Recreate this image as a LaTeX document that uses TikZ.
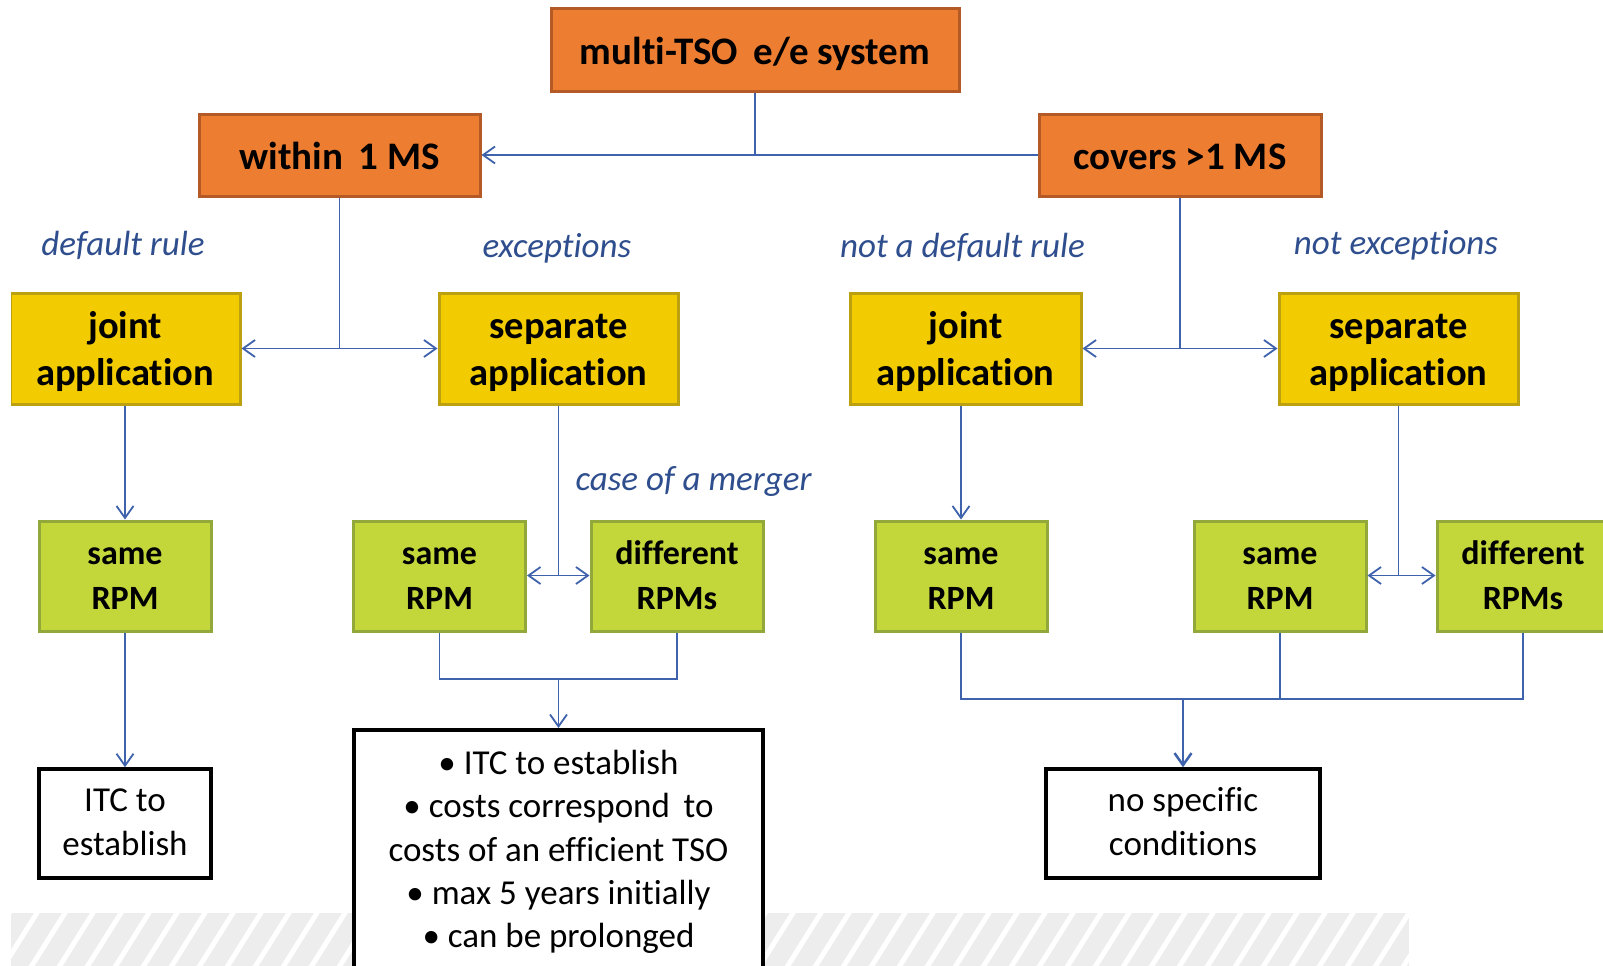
\documentclass[tikz,border=0pt]{standalone}
\usepackage{fontspec}
\setmainfont{Carlito}[Ligatures=NoCommon]
\usetikzlibrary{arrows.meta}
\definecolor{orF}{HTML}{ED7D31}
\definecolor{orD}{HTML}{B35A26}
\definecolor{yeF}{HTML}{F2CB00}
\definecolor{yeD}{HTML}{BBA010}
\definecolor{grF}{HTML}{C3D63A}
\definecolor{grD}{HTML}{92A83A}
\definecolor{lnC}{HTML}{3E62AC}
\definecolor{lbC}{HTML}{2F4E8E}
\definecolor{hatchC}{HTML}{EDEDED}
\tikzset{
  orbox/.style={rectangle, fill=orF, draw=orD, line width=3pt, inner sep=0pt, align=center,
    text height=29pt, text depth=0pt,
    font=\bfseries\fontsize{39}{47}\selectfont},
  yebox/.style={rectangle, fill=yeF, draw=yeD, line width=3pt, inner sep=0pt, align=center,
    text height=73pt, text depth=0pt,
    minimum height=111pt, font=\bfseries\fontsize{38.5}{46.5}\selectfont},
  grbox/.style={rectangle, fill=grF, draw=grD, line width=3pt, inner sep=0pt, align=center,
    text height=66.6pt, text depth=0pt,
    minimum width=172pt, minimum height=110pt, font=\bfseries\fontsize{34}{45}\selectfont},
  whbox/.style={rectangle, fill=white, draw=black, line width=3.5pt, inner sep=0pt, align=center,
    font=\fontsize{35}{44}\selectfont},
  lbl/.style={anchor=base, inner sep=0pt, text=lbC, font=\itshape\fontsize{35}{42}\selectfont},
  conn/.style={draw=lnC, line width=1.8pt},
  arr/.style={conn, -{Straight Barb[length=12pt,width=17pt]}},
  darr/.style={conn, {Straight Barb[length=12pt,width=17pt]}-{Straight Barb[length=12pt,width=17pt]}}
}
\begin{document}
\begin{tikzpicture}[x=1pt,y=-1pt]
\useasboundingbox (0,0) rectangle (1603,966);
\fill[white] (0,0) rectangle (1603,966);
\clip (11,0) rectangle (1603,966);
% hatched band
\begin{scope}
  \clip (11,913) rectangle (1409,970);
  \fill[hatchC] (11,913) rectangle (1409,970);
  \foreach \i in {0,...,54} {
    \draw[white, line width=5pt] ({\i*28-30},975) -- ({\i*28+14},905);
  }
\end{scope}
% top level
\node[orbox, minimum width=408pt, minimum height=82pt] (top) at (755,50) {multi-TSO\, e/e system};
\node[orbox, minimum width=281pt, minimum height=82pt] (within) at (339.5,155) {within\, 1 MS};
\node[orbox, minimum width=282pt, minimum height=82pt] (covers) at (1180,155) {covers >1 MS};
% labels
\node[lbl] (l1) at (123,255.6) {default rule};
\node[lbl] (l2) at (557,257.6) {exceptions};
\node[lbl] (l3) at (962.5,257.6) {not a default rule};
\node[lbl] (l4) at (1396,254.5) {not exceptions};
\node[lbl] (l5) at (693.6,490.7) {case of a merger};
% yellow
\node[yebox, minimum width=230pt] (jl) at (125,348.5) {joint\\application};
\node[yebox, minimum width=239pt] (sl) at (558.5,348.5) {separate\\application};
\node[yebox, minimum width=231pt] (jr) at (965.5,348.5) {joint\\application};
\node[yebox, minimum width=239pt] (sr) at (1398.5,348.5) {separate\\application};
% green
\node[grbox] (g1) at (125,576) {same\\RPM};
\node[grbox] (g2) at (439.5,576) {same\\RPM};
\node[grbox] (g3) at (677,576) {different\\RPMs};
\node[grbox] (g4) at (961,576) {same\\RPM};
\node[grbox] (g5) at (1280,576) {same\\RPM};
\node[grbox] (g6) at (1523,576) {different\\RPMs};
% white boxes
\node[whbox, minimum width=172pt, minimum height=109pt, text height=64.4pt, text depth=0pt] (itc) at (125,823.5) {ITC to\\establish};
\node[whbox, minimum width=274pt, minimum height=109pt, text height=64.4pt, text depth=0pt] (nsc) at (1183,823.5) {no specific\\conditions};
\node[whbox, minimum width=409pt, minimum height=280pt, anchor=north] (big) at (558.5,728) {};
\node[anchor=base, inner sep=0pt, align=center, font=\fontsize{35}{43.35}\selectfont] (bigtxt) at (558.5,947.7)
  {\textbullet\ ITC to establish\\ \textbullet\ costs correspond\, to\\ costs of an efficient TSO\\ \textbullet\ max 5 years initially\\ \textbullet\ can be prolonged};
% coordinates
\coordinate (c0) at (755,155);
\coordinate (c1) at (339.5,348.5);
\coordinate (c2) at (1180,348.5);
\coordinate (c3) at (558.5,575.5);
\coordinate (c4) at (1398.5,575.5);
\coordinate (c5) at (558.5,679);
\coordinate (c6) at (1183,699);
% connectors
\draw[conn] (top.south) -- (c0);
\draw[arr] (c0) -- (within.east);
\draw[conn] (c0) -- (covers.west);
\draw[conn] (within.south) -- (c1);
\draw[darr] (jl.east |- c1) -- (sl.west |- c1);
\draw[conn] (covers.south) -- (c2);
\draw[darr] (jr.east |- c2) -- (sr.west |- c2);
\draw[arr] (jl.south) -- (g1.north);
\draw[conn] (sl.south) -- (c3);
\draw[darr] (g2.east |- c3) -- (g3.west |- c3);
\draw[arr] (g4.north |- jr.south) -- (g4.north);
\draw[conn] (sr.south) -- (c4);
\draw[darr] (g5.east |- c4) -- (g6.west |- c4);
\draw[arr] (g1.south) -- (itc.north);
\draw[conn] (g2.south) -- (g2.south |- c5) -- (g3.south |- c5) -- (g3.south);
\draw[arr] (c5) -- (big.north);
\draw[conn] (g4.south) -- (g4.south |- c6) -- (g6.south |- c6) -- (g6.south);
\draw[conn] (g5.south) -- (g5.south |- c6);
\draw[arr, line width=2.5pt] (c6) -- (nsc.north);
\end{tikzpicture}
\end{document}
